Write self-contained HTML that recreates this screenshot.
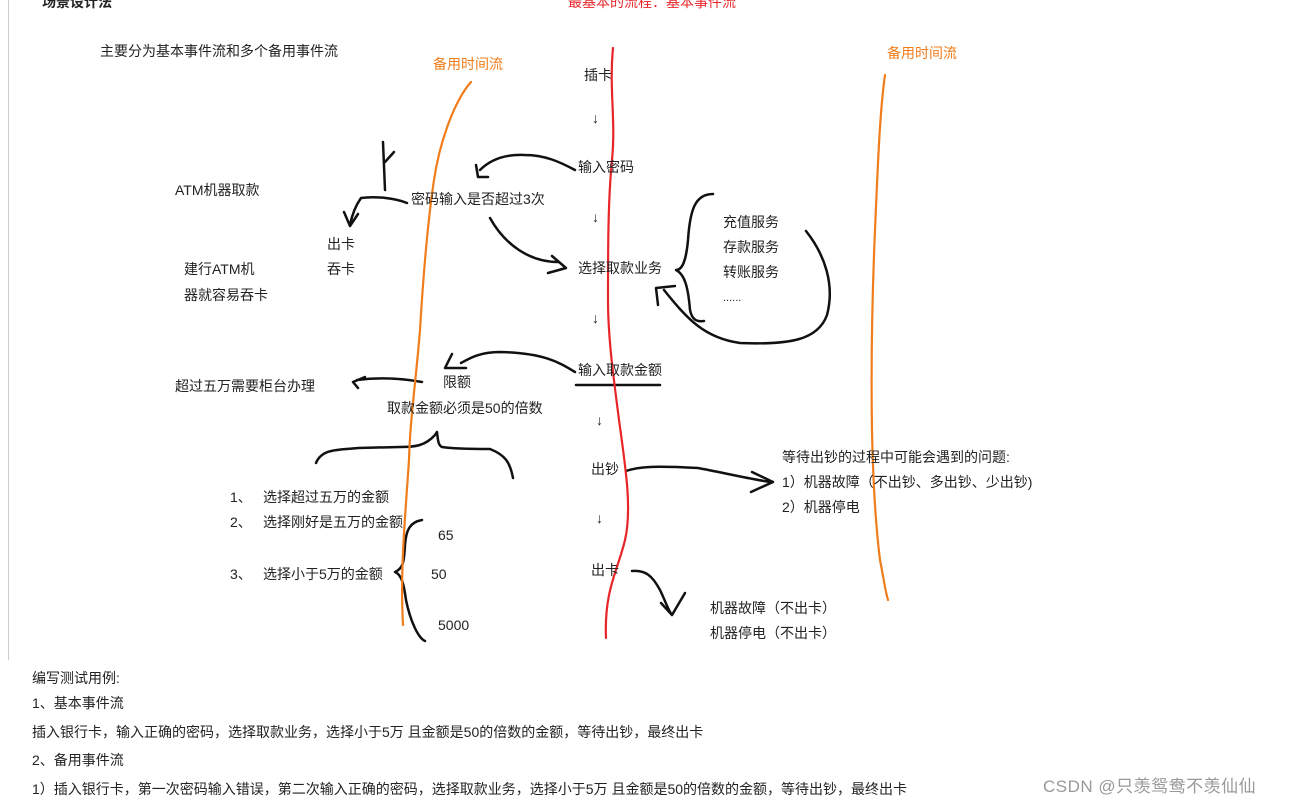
<!DOCTYPE html>
<html><head><meta charset="utf-8"><style>
html,body{margin:0;padding:0;background:#fff;}
body{width:1289px;height:808px;position:relative;overflow:hidden;font-family:"Liberation Sans","Noto Sans CJK SC",sans-serif;font-size:14px;color:#222;}
.t{position:absolute;white-space:nowrap;line-height:18px;}
.o{color:#f07d1c;}
.r{color:#e8262a;}
svg{position:absolute;left:0;top:0;}
</style></head><body>
<div style="position:absolute;left:8px;top:0;width:1px;height:660px;background:#ccc"></div>
<svg width="1289" height="808" fill="none" stroke-linecap="round" stroke-linejoin="round">
<g stroke="#111" stroke-width="2.5">
<path d="M383,142 L385,190 M385,162 L394,152"/>
<path d="M407,203 C395,198 375,196 361,198 C356,205 352,215 350,225 M344,212 L350,226 L358,214"/>
<path d="M575,170 C560,162 545,155 525,155 C505,154 490,160 480,170 M476,165 L478,177 L488,177"/>
<path d="M490,218 C505,245 530,262 558,262 M552,256 L566,268 L548,273"/>
<path d="M713,194 C695,194 690,210 688,240 C686,262 682,270 676,270 C684,274 688,285 690,310 C692,320 697,322 704,321"/>
<path d="M806,231 C825,255 835,285 827,315 C818,340 790,345 740,343 C705,338 688,320 664,290 M658,305 L656,288 L675,286"/>
<path d="M576,385 L660,385"/>
<path d="M575,372 C560,363 545,353 500,352 C480,352 470,358 461,363 M452,354 L445,368 L466,368"/>
<path d="M422,382 C400,378 380,377 357,380 M365,377 L353,382 L358,388"/>
<path d="M316,463 C322,448 340,450 358,448 L400,447 C415,447 425,446 435,435 L437,432 C438,440 438,445 442,447 C455,449 475,449 490,449 C505,455 510,462 513,478"/>
<path d="M422,520 C410,522 406,530 405,545 C404,560 404,568 395,572 C402,575 404,585 406,600 C410,620 418,638 425,641"/>
<path d="M626,471 C640,466 660,466 698,468 C720,472 745,478 770,482 M752,472 L773,482 L751,492"/>
<path d="M632,571 C645,570 652,575 660,590 C665,600 668,610 672,615 M661,603 L672,615 L685,593"/>
</g>
<path d="M613,48 C609,90 616,120 612,160 C608,200 608,250 608,300 C608,340 614,380 619,420 C626,470 632,510 625,540 C618,570 604,590 606,638" stroke="#e8262a" stroke-width="2.2"/>
<path d="M471,82 C455,100 440,140 434,180 C428,220 423,280 420,330 C416,380 410,420 409,460 C405,520 400,570 403,625" stroke="#f07d1c" stroke-width="2.2"/>
<path d="M885,75 C880,110 878,160 875,230 C872,300 871,370 872,430 C873,480 875,520 880,560 C884,580 885,590 888,600" stroke="#f07d1c" stroke-width="2.2"/>
</svg>
<div class="t" style="left:42px;top:-7px;font-weight:bold">场景设计法</div>
<div class="t r" style="left:568px;top:-7px">最基本的流程：基本事件流</div>
<div class="t" style="left:100px;top:42px">主要分为基本事件流和多个备用事件流</div>
<div class="t o" style="left:433px;top:55px">备用时间流</div>
<div class="t o" style="left:887px;top:44px">备用时间流</div>
<div class="t" style="left:584px;top:66px">插卡</div>
<div class="t" style="left:592px;top:109px">↓</div>
<div class="t" style="left:578px;top:158px">输入密码</div>
<div class="t" style="left:592px;top:208px">↓</div>
<div class="t" style="left:578px;top:259px">选择取款业务</div>
<div class="t" style="left:592px;top:309px">↓</div>
<div class="t" style="left:578px;top:361px">输入取款金额</div>
<div class="t" style="left:596px;top:411px">↓</div>
<div class="t" style="left:591px;top:460px">出钞</div>
<div class="t" style="left:596px;top:509px">↓</div>
<div class="t" style="left:591px;top:561px">出卡</div>
<div class="t" style="left:175px;top:181px">ATM机器取款</div>
<div class="t" style="left:411px;top:190px">密码输入是否超过3次</div>
<div class="t" style="left:327px;top:235px">出卡</div>
<div class="t" style="left:327px;top:260px">吞卡</div>
<div class="t" style="left:184px;top:260px">建行ATM机</div>
<div class="t" style="left:184px;top:286px">器就容易吞卡</div>
<div class="t" style="left:723px;top:213px">充值服务</div>
<div class="t" style="left:723px;top:238px">存款服务</div>
<div class="t" style="left:723px;top:263px">转账服务</div>
<div class="t" style="left:723px;top:289px;font-size:11px">......</div>
<div class="t" style="left:175px;top:377px">超过五万需要柜台办理</div>
<div class="t" style="left:443px;top:373px">限额</div>
<div class="t" style="left:387px;top:399px">取款金额必须是50的倍数</div>
<div class="t" style="left:230px;top:488px">1、</div>
<div class="t" style="left:263px;top:488px">选择超过五万的金额</div>
<div class="t" style="left:230px;top:513px">2、</div>
<div class="t" style="left:263px;top:513px">选择刚好是五万的金额</div>
<div class="t" style="left:230px;top:565px">3、</div>
<div class="t" style="left:263px;top:565px">选择小于5万的金额</div>
<div class="t" style="left:438px;top:526px">65</div>
<div class="t" style="left:431px;top:565px">50</div>
<div class="t" style="left:438px;top:616px">5000</div>
<div class="t" style="left:782px;top:448px">等待出钞的过程中可能会遇到的问题:</div>
<div class="t" style="left:782px;top:473px">1）机器故障（不出钞、多出钞、少出钞)</div>
<div class="t" style="left:782px;top:498px">2）机器停电</div>
<div class="t" style="left:710px;top:599px">机器故障（不出卡）</div>
<div class="t" style="left:710px;top:624px">机器停电（不出卡）</div>
<div class="t" style="left:32px;top:669px">编写测试用例:</div>
<div class="t" style="left:32px;top:694px">1、基本事件流</div>
<div class="t" style="left:32px;top:723px">插入银行卡，输入正确的密码，选择取款业务，选择小于5万 且金额是50的倍数的金额，等待出钞，最终出卡</div>
<div class="t" style="left:32px;top:751px">2、备用事件流</div>
<div class="t" style="left:32px;top:780px">1）插入银行卡，第一次密码输入错误，第二次输入正确的密码，选择取款业务，选择小于5万 且金额是50的倍数的金额，等待出钞，最终出卡</div>
<div class="t" style="left:1043px;top:778px;color:#999;font-size:17px;letter-spacing:0.5px">CSDN @只羡鸳鸯不羡仙仙</div>
</body></html>
